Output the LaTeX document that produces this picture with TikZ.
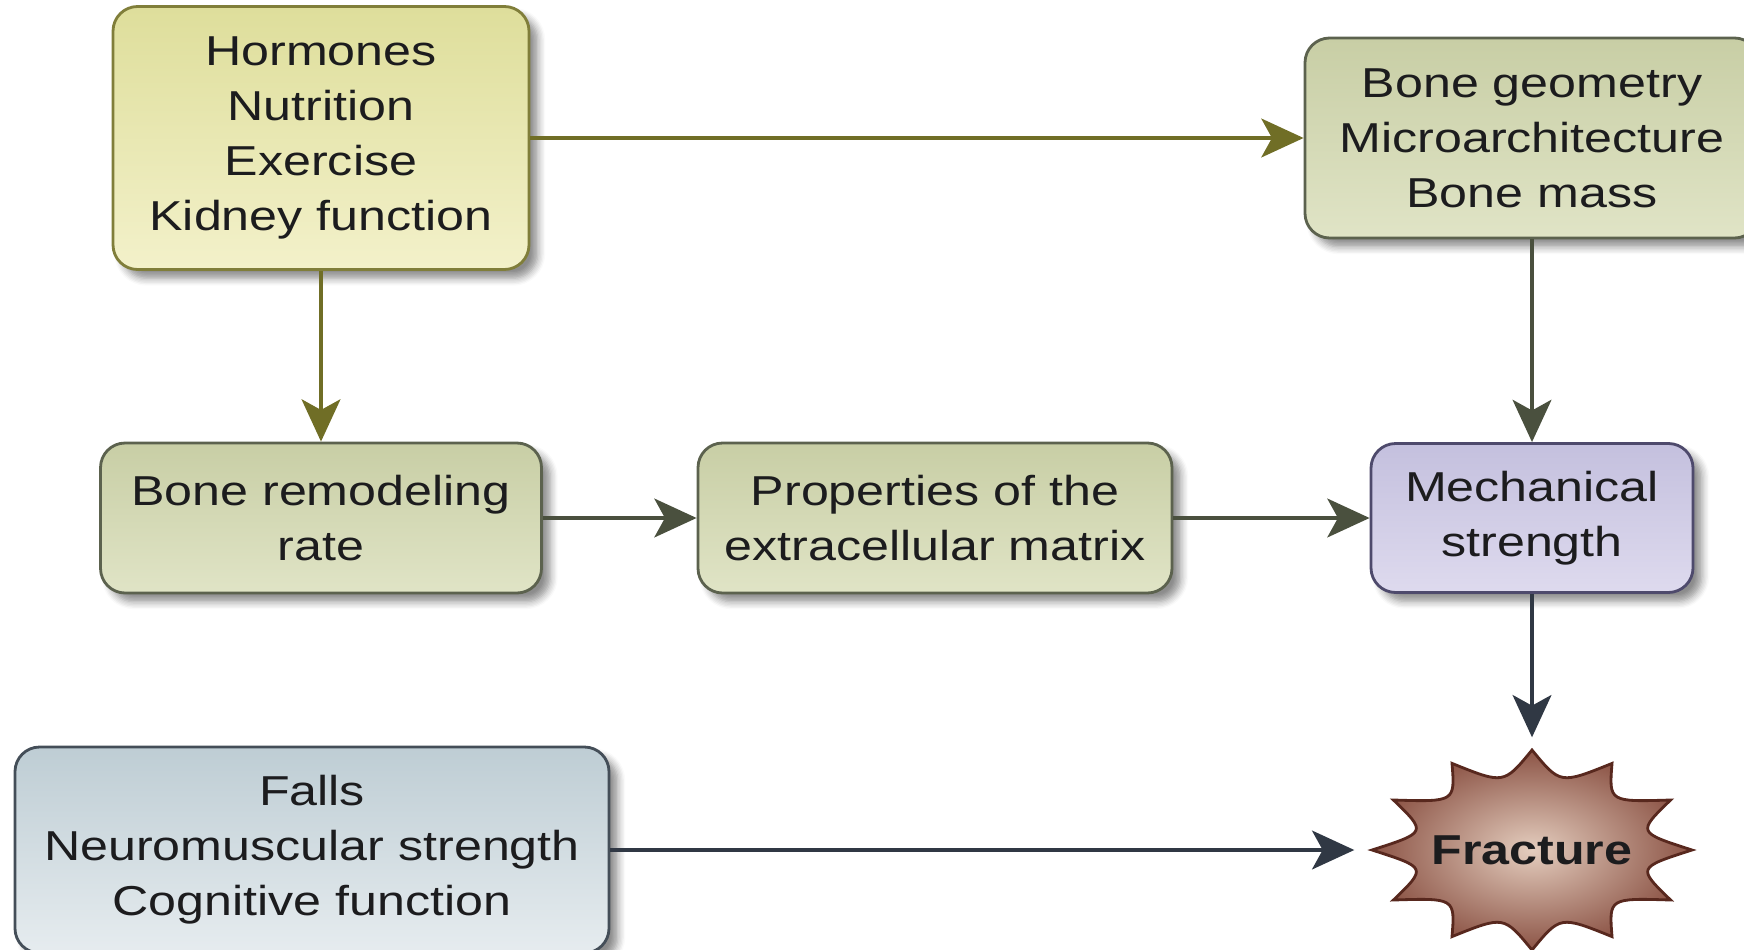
\documentclass[tikz,border=0pt]{standalone}
\usepackage{fontspec}
\setmainfont{Liberation Sans}[FakeStretch=1.2]
\usepackage{tikz}
\usetikzlibrary{arrows.meta,shapes.geometric,shadows.blur}

\definecolor{texto}{RGB}{28,28,30}
\definecolor{hormArr}{RGB}{222,222,155}
\definecolor{hormAba}{RGB}{243,241,202}
\definecolor{hormBor}{RGB}{128,126,58}
\definecolor{geoArr}{RGB}{200,206,165}
\definecolor{geoAba}{RGB}{224,228,198}
\definecolor{geoBor}{RGB}{92,98,78}
\definecolor{mecArr}{RGB}{196,192,222}
\definecolor{mecAba}{RGB}{222,218,238}
\definecolor{mecBor}{RGB}{78,74,108}
\definecolor{caiArr}{RGB}{190,205,212}
\definecolor{caiAba}{RGB}{230,236,239}
\definecolor{caiBor}{RGB}{68,78,88}
\definecolor{estIn}{RGB}{228,205,190}
\definecolor{estOut}{RGB}{140,84,70}
\definecolor{estBor}{RGB}{88,40,30}
\definecolor{olivo}{RGB}{112,110,38}
\definecolor{gris}{RGB}{74,80,62}
\definecolor{pizarra}{RGB}{48,56,68}

\tikzset{
  caja/.style={draw, rounded corners=7pt, line width=0.8pt, align=center, inner sep=2pt,
    text=texto, font=\fontsize{11.9}{15.6}\selectfont,
    blur shadow={shadow xshift=2.5pt, shadow yshift=-2.5pt, shadow blur steps=6, shadow opacity=45}},
  flecha/.style={line width=1.3pt, -{Stealth[length=12pt,width=11pt,inset=3pt]}},
}

\begin{document}
\begin{tikzpicture}
\useasboundingbox (0,0) rectangle (17.44,-9.50);
% Cajas
\node[caja, draw=hormBor, top color=hormArr, bottom color=hormAba, minimum width=4.16cm, minimum height=2.63cm]
  (hormonas) at (3.21,-1.38) {Hormones\\Nutrition\\Exercise\\Kidney function};
\node[caja, draw=geoBor, top color=geoArr, bottom color=geoAba, minimum width=4.54cm, minimum height=2.00cm]
  (geometria) at (15.32,-1.38) {Bone geometry\\Microarchitecture\\Bone mass};
\node[caja, draw=geoBor, top color=geoArr, bottom color=geoAba, minimum width=4.41cm, minimum height=1.50cm]
  (remodelado) at (3.21,-5.18) {Bone remodeling\\rate};
\node[caja, draw=geoBor, top color=geoArr, bottom color=geoAba, minimum width=4.74cm, minimum height=1.50cm]
  (matriz) at (9.35,-5.18) {Properties of the\\extracellular matrix};
\node[caja, draw=mecBor, top color=mecArr, bottom color=mecAba, minimum width=3.22cm, minimum height=1.49cm]
  (mecanica) at (15.32,-5.18) {Mechanical\\strength};
\node[caja, draw=caiBor, top color=caiArr, bottom color=caiAba, minimum width=5.94cm, minimum height=2.06cm]
  (caidas) at (3.12,-8.50) {Falls\\Neuromuscular strength\\Cognitive function};
% Estrella Fractura
\coordinate (cf) at (15.32,-8.50);
\begin{scope}[shift={(cf)}]
\draw[draw=estBor, line width=0.8pt, inner color=estIn, outer color=estOut]
  (0:1.6 and 1.0) \foreach \a in {30,60,...,360} {
    .. controls ({0.68*1.6*cos(\a-15)},{0.68*1.0*sin(\a-15)}) .. ({1.6*cos(\a)},{1.0*sin(\a)}) } -- cycle;
\end{scope}
\node[ellipse, minimum width=3.54cm, minimum height=2.24cm, text=texto,
  font=\fontsize{11.9}{15.6}\selectfont\bfseries] (fractura) at (cf) {Fracture};
% Flechas
\draw[flecha, olivo] (hormonas) -- (geometria);
\draw[flecha, olivo] (hormonas) -- (remodelado);
\draw[flecha, gris] (geometria) -- (mecanica);
\draw[flecha, gris] (remodelado) -- (matriz);
\draw[flecha, gris] (matriz) -- (mecanica);
\draw[flecha, pizarra] (mecanica) -- (fractura);
\draw[flecha, pizarra] (caidas) -- (fractura);
\end{tikzpicture}
\end{document}
